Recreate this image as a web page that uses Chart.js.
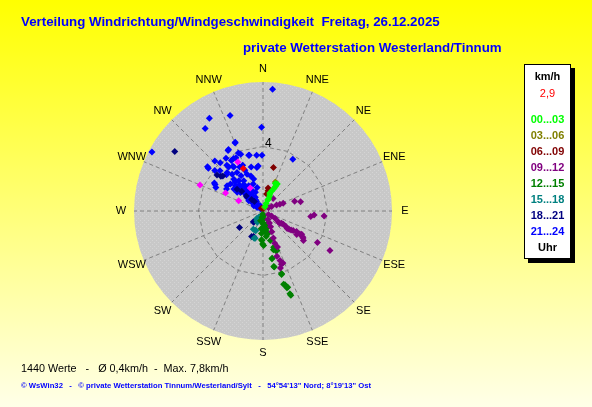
<!DOCTYPE html>
<html>
<head>
<meta charset="utf-8">
<script src="https://cdn.jsdelivr.net/npm/chart.js@4.4.1/dist/chart.umd.min.js"></script>
<style>
    html, body { margin: 0; padding: 0; }
    body {
        width: 592px; height: 407px; overflow: hidden; position: relative;
        background: linear-gradient(to bottom, #ffff00 0%, #ffffe8 100%);
        font-family: Arial, "Liberation Sans", sans-serif;
    }
    #wrap { position: absolute; left: 0; top: 0; width: 592px; height: 407px; }
    .t { position: absolute; white-space: pre; line-height: 1; }
    .title { color: #0000ff; font-weight: bold; font-size: 13.3px; }
    #legend {
        position: absolute; left: 524px; top: 64px; width: 45px; height: 193px;
        background: #fff; border: 1px solid #000; box-shadow: 4px 4px 0 #000;
    }
    #legend div { position: absolute; left: 0; width: 45px; text-align: center; font-size: 11px; font-weight: bold; line-height: 12px; }
</style>
</head>
<body>
<div id="wrap"><canvas id="rose"></canvas></div>
<div class="t title" style="left:21px; top:15px;">Verteilung Windrichtung/Windgeschwindigkeit  Freitag, 26.12.2025</div>
<div class="t title" style="left:243px; top:41px;">private Wetterstation Westerland/Tinnum</div>
<div class="t" style="left:21px; top:363px; font-size:10.8px; color:#000;">1440 Werte   -   Ø 0,4km/h  -  Max. 7,8km/h</div>
<div class="t" style="left:21px; top:382px; font-size:7.7px; font-weight:bold; color:#0000ff;">© WsWin32   -   © private Wetterstation Tinnum/Westerland/Sylt   -   54°54'13" Nord; 8°19'13" Ost</div>
<div id="legend"></div>
<script>
// wind speed scale (km/h) and compass
const speedMax  = 8;
const compass   = [ 'N', 'NNE', 'NE', 'ENE', 'E', 'ESE', 'SE', 'SSE', 'S', 'SSW', 'SW', 'WSW', 'W', 'WNW', 'NW', 'NNW' ];
const ringTicks = [ 4 ];

const hourBands  = [ '00...03', '03...06', '06...09', '09...12', '12...15', '15...18', '18...21', '21...24' ];
const bandColors = [ '#00ff00', '#808000', '#800000', '#800080', '#008000', '#008080', '#000080', '#0000ff' ];

// [direction in degrees, speed in km/h]
const wind0003 = [ [24,1.87],[28,1.89],[26,1.56],[24,1.37],[22,1.13],[25,0.82],[23,0.74],[25,0.3],[21,1.21],[27,1.7],[24,1.0],[23,0.5] ];
const wind0306 = [ [23,1.96],[20,0.25] ];
const wind0609 = [ [13.5,2.77],[12.5,1.46],[12,1.08],[14,1.3],[330,0.2],[10,0.15] ];
const wind0912 = [ [39,1.0],[60,0.4],[63,0.6],[66,0.92],[68,1.13],[69,1.34],[73,2.05],[76,2.4],[96.7,2.98],[94.5,3.18],[94.7,3.8],
                   [120,0.62],[121,0.87],[125,1.15],[123.5,1.38],[123,1.5],[127,1.3],[124,1.7],[126,1.85],[125,1.98],[124,2.1],
                   [123,2.23],[121.5,2.44],[125,2.55],[122,2.69],[121,2.8],[123,2.92],[124,3.0],[126,3.1],[120,3.9],[120.5,4.82],[122,0.4],
                   [150,0.6],[152,0.85],[154,1.08],[157,1.4],[159,1.8],[160,2.13],[158,2.4],[163,2.94],[161,3.24],[161,3.5],[163,3.7],[159,3.45] ];
const wind1215 = [ [189,0.4],[195,0.62],[180,0.8],[171,0.92],[163,0.84],[176,1.22],[170,1.44],[166,1.89],[182,1.83],[179,2.14],
                   [163.6,2.34],[160.6,2.6],[169.4,3.01],[168.6,3.55],[164.3,4.72],[162.7,4.98],[161.7,5.5],[163.7,4.1],[178,0.76],
                   [174,1.28],[183,1.79],[180.6,2.04],[166.6,1.42],[165,2.49],[162,2.6],[169,2.98],[169,3.5],[163.5,4.05],[163.4,4.77],
                   [162,4.97],[162,5.4],[185,0.2],[175,0.5],[172,0.3],[178,1.0],[186,1.1],[168,1.1],[173,1.6],[184,1.4] ];
const wind1518 = [ [220,0.6],[207,0.78],[208,1.28],[200,1.29],[198,1.78],[212,0.7],[214,0.47],[201,1.3],[205,0.35],[196,1.76] ];
const wind1821 = [ [304,6.6],[308,3.62],[309.6,3.39],[311,3.3],[222,0.89],[204,1.73],[235,1.78],[219.5,0.9],[200,1.69],
                   [315,1.0],[312,1.4],[318,0.8],[313,1.8],[310,2.1] ];
const wind2124 = [ [4.5,7.57],[359,5.2],[341,6.27],[330,6.65],[325,6.25],[298,7.8],[338,4.6],[30,3.7],[330,4.33],[308,4.3],[316,4.3],
                   [318.5,4.0],[325,4.0],[328,3.7],[333,3.7],[337,3.9],[345.6,3.57],[353.5,3.48],[359,3.46],[310,3.9],[313,3.65],
                   [299,3.4],[296.6,3.27],[314.7,3.19],[322,3.46],[326.5,3.28],[332,3.09],[352,2.72],[317,3.26],[320,2.98],[326,2.88],
                   [328,2.57],[336.6,2.49],[341,2.3],[343.7,2.06],[317.5,2.68],[321.3,2.4],[327.5,2.22],[305,2.72],[309.6,2.62],
                   [312.5,2.32],[316,2.02],[323.7,2.02],[330.5,1.8],[301,2.64],[307,2.26],[309.5,1.81],[314,1.51],[323.3,1.31],
                   [310.5,1.3],[313.5,1.08],[318,0.86],[319.4,0.57],[310,0.35],[324.3,1.16],[330.7,0.97],[305.8,1.09],[300,0.66],
                   [321,1.74],[314,1.8],[306,1.98],[319.4,1.52],[308,0.86],[318.5,0.71],[301.4,0.43],[333.4,0.37],[322,1.5],
                   [331.6,1.43],[337.7,1.25],[346,1.5],[340,1.78],[337.7,4.56],[330.7,4.37],[330.6,3.73],[338.6,3.78],[346.3,3.56],
                   [336,3.1],[336,2.77],[345,2.83],[354,2.8],[308.5,4.4],[300,3.48],[326,3.35],[321.7,3.62],[315,0.2],[320,0.5],
                   [325,0.7],[312,0.6],[316,1.2],[320,1.0],[327,0.8],[311,0.9],[315,1.65],[318,2.2],[313,2.0],[325,1.9],[329,1.3],[316,2.5] ];
const hourMarks = [ [332.8,3.42],[292.5,4.23],[295.8,2.58],[293,1.64],[331,1.63] ];
const lastValue = [ [335,2.9] ];

const bandData = [ wind0003, wind0306, wind0609, wind0912, wind1215, wind1518, wind1821, wind2124 ];

function toXY( list ) {
    return list.map( function ( p ) {
        const a = p[0] * Math.PI / 180;
        return { x: p[1] * Math.sin( a ), y: p[1] * Math.cos( a ) };
    } );
}

function marker( label, data, color ) {
    return {
        label: label, data: toXY( data ),
        pointStyle: 'rectRot', pointRadius: 3.5, pointHoverRadius: 3.5,
        backgroundColor: color, borderColor: color, borderWidth: 0
    };
}

// legend box
const legend = document.getElementById( 'legend' );
function legendLine( text, top, color, weight ) {
    const d = document.createElement( 'div' );
    d.textContent = text;
    d.style.top = top + 'px';
    d.style.color = color;
    if ( weight ) d.style.fontWeight = weight;
    legend.appendChild( d );
}
legendLine( 'km/h', 5, '#000' );
legendLine( lastValue[0][1].toFixed( 1 ).replace( '.', ',' ), 22, '#ff0000', 'normal' );
hourBands.forEach( function ( b, i ) { legendLine( b, 48 + i * 16, bandColors[i] ); } );
legendLine( 'Uhr', 176, '#000' );

let diskFill = null;
function getDiskFill( ctx ) {
    if ( diskFill ) return diskFill;
    const c = document.createElement( 'canvas' );
    c.width = 4; c.height = 4;
    const g = c.getContext( '2d' );
    g.fillStyle = '#c8c8c8'; g.fillRect( 0, 0, 4, 4 );
    g.fillStyle = '#d4d4d4'; g.fillRect( 0, 0, 1, 1 ); g.fillRect( 2, 2, 1, 1 );
    diskFill = ctx.createPattern( c, 'repeat' );
    return diskFill;
}

const roseGrid = {
    id: 'roseGrid',
    beforeDatasetsDraw: function ( chart ) {
        const ctx = chart.ctx, x = chart.scales.x, y = chart.scales.y;
        const cx = x.getPixelForValue( 0 ), cy = y.getPixelForValue( 0 );
        const R  = x.getPixelForValue( speedMax ) - cx;
        const step = 2 * Math.PI / compass.length;

        ctx.save();
        ctx.beginPath();
        ctx.arc( cx, cy, R, 0, 2 * Math.PI );
        ctx.fillStyle = getDiskFill( ctx );
        ctx.fill();

        ctx.setLineDash( [ 4, 3 ] );
        ctx.strokeStyle = '#808080';
        ctx.lineWidth = 1;
        compass.forEach( function ( c, i ) {
            ctx.beginPath();
            ctx.moveTo( cx, cy );
            ctx.lineTo( cx + R * Math.sin( i * step ), cy - R * Math.cos( i * step ) );
            ctx.stroke();
        } );
        ringTicks.forEach( function ( v ) {
            const r = x.getPixelForValue( v ) - cx;
            ctx.beginPath();
            compass.forEach( function ( c, i ) {
                const px = cx + r * Math.sin( i * step ), py = cy - r * Math.cos( i * step );
                if ( i === 0 ) ctx.moveTo( px, py ); else ctx.lineTo( px, py );
            } );
            ctx.closePath();
            ctx.stroke();
        } );
        ctx.setLineDash( [] );

        ctx.fillStyle = '#000';
        ctx.font = '11px Arial, "Liberation Sans"';
        ctx.textAlign = 'center';
        ctx.textBaseline = 'middle';
        compass.forEach( function ( c, i ) {
            ctx.fillText( c, cx + ( R + 13 ) * Math.sin( i * step ), cy - ( R + 13 ) * Math.cos( i * step ) );
        } );

        ctx.font = '12px Arial, "Liberation Sans"';
        ctx.textAlign = 'left';
        ringTicks.forEach( function ( v ) {
            const r = x.getPixelForValue( v ) - cx;
            ctx.fillText( String( v ), cx + 2, cy - r - 3 );
        } );
        ctx.restore();
    }
};

const datasets = [ marker( 'aktuell', lastValue, '#ff0000' ), marker( 'Stunde', hourMarks, '#ff00ff' ) ];
hourBands.forEach( function ( b, i ) { datasets.push( marker( b, bandData[i], bandColors[i] ) ); } );

new Chart( document.getElementById( 'rose' ).getContext( '2d' ), {
    type: 'scatter',
    data: { datasets: datasets },
    options: {
        responsive: true,
        maintainAspectRatio: false,
        animation: false,
        layout: { padding: { left: 134, right: 200, top: 82, bottom: 67 } },
        scales: {
            x: { display: false, min: -speedMax, max: speedMax },
            y: { display: false, min: -speedMax, max: speedMax }
        },
        plugins: {
            legend: { display: false },
            tooltip: { enabled: false }
        }
    },
    plugins: [ roseGrid ]
} );
</script>
</body>
</html>
